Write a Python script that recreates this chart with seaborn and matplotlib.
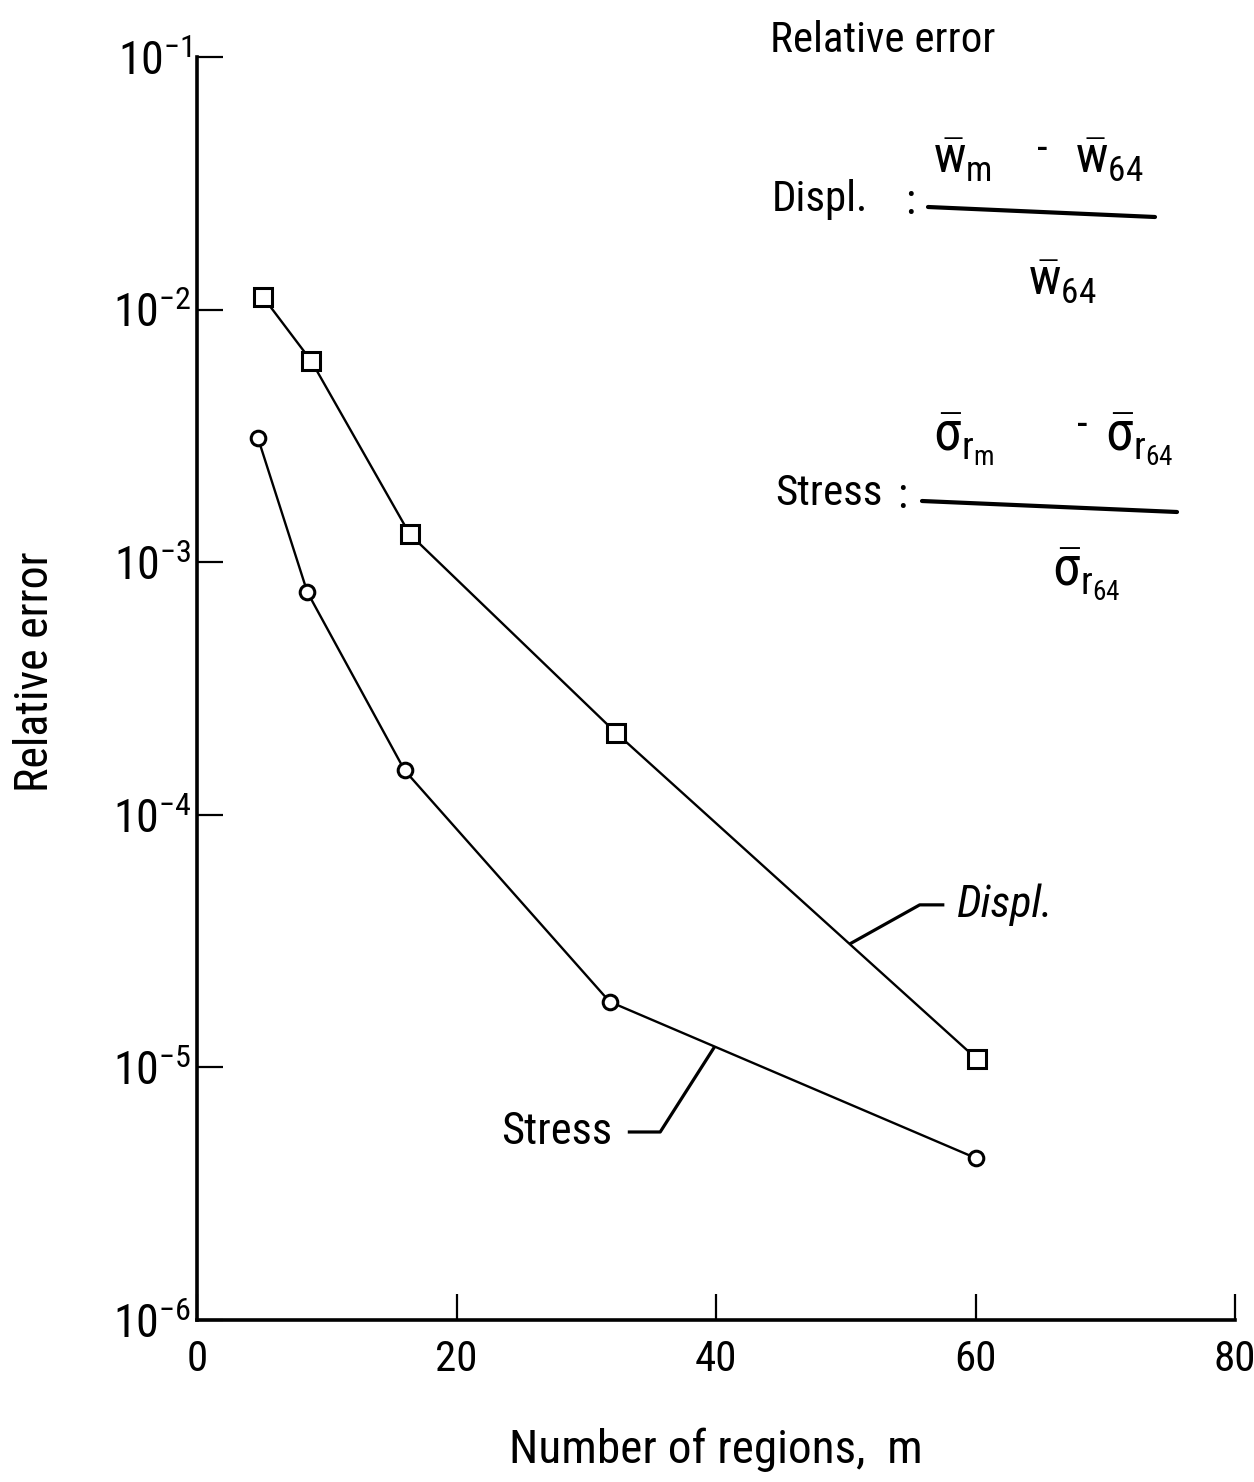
import numpy as np
import pandas as pd
import matplotlib
matplotlib.use("Agg")
import matplotlib.pyplot as plt
from matplotlib import font_manager
from matplotlib.lines import Line2D
from matplotlib.ticker import FixedLocator, FuncFormatter, NullLocator
import seaborn as sns

# Number of regions m and relative errors of the two solutions
m_displ = [5.1, 8.8, 16.4, 32.3, 60.1]
err_displ = [1.12e-2, 6.27e-3, 1.29e-3, 2.11e-4, 1.08e-5]
m_stress = [4.7, 8.5, 16.0, 31.8, 60.0]
err_stress = [3.10e-3, 7.62e-4, 1.50e-4, 1.82e-5, 4.38e-6]

x_ticks = [0, 20, 40, 60, 80]
y_exponents = [-6, -5, -4, -3, -2, -1]


def pick_font(names):
    for name in names:
        try:
            font_manager.findfont(name, fallback_to_default=False)
            return name
        except Exception:
            continue
    return "DejaVu Sans"


sns.set_theme(style="ticks")
FONT = pick_font(["Roboto Condensed", "Liberation Sans Narrow", "Open Sans Condensed",
                  "DejaVu Sans Condensed", "Liberation Sans"])
plt.rcParams["font.family"] = [FONT, "DejaVu Sans"]
plt.rcParams["font.stretch"] = "condensed"
plt.rcParams["text.color"] = "black"
plt.rcParams["mathtext.fontset"] = "custom"
plt.rcParams["mathtext.rm"] = FONT
plt.rcParams["mathtext.it"] = FONT
plt.rcParams["mathtext.bf"] = FONT
plt.rcParams["mathtext.sf"] = FONT

W, H = 1254, 1482
fig = plt.figure(figsize=(W / 100, H / 100), dpi=100)
fig.patch.set_facecolor("white")
left, right, top, bottom = 197, 1235, 57, 1320
ax = fig.add_axes([left / W, 1 - bottom / H, (right - left) / W, (bottom - top) / H])
ax.set_facecolor("white")

displ = pd.DataFrame({"m": m_displ, "err": err_displ})
stress = pd.DataFrame({"m": m_stress, "err": err_stress})

common = dict(color="black", linewidth=1.7, markerfacecolor="white",
              markeredgecolor="black", markeredgewidth=2.2, legend=False, ax=ax)
sns.lineplot(data=displ, x="m", y="err", marker="s", markersize=13, **common)
sns.lineplot(data=stress, x="m", y="err", marker="o", markersize=10.5, **common)

ax.set_yscale("log")
ax.set_xlim(0, 80)
ax.set_ylim(1e-6, 1e-1)
ax.xaxis.set_major_locator(FixedLocator(x_ticks))
ax.yaxis.set_major_locator(FixedLocator([10.0 ** e for e in y_exponents]))
ax.yaxis.set_minor_locator(NullLocator())
ax.yaxis.set_major_formatter(FuncFormatter(lambda v, p: r"$10^{\mathregular{-%d}}$" % abs(round(np.log10(v)))))
ax.xaxis.set_major_formatter(FuncFormatter(lambda v, p: "%d" % v))

for side in ("top", "right"):
    ax.spines[side].set_visible(False)
for side in ("left", "bottom"):
    ax.spines[side].set_linewidth(2.6)
    ax.spines[side].set_color("black")

ax.tick_params(axis="both", direction="in", length=19, width=1.6, color="black",
               labelsize=31, labelcolor="black")
ax.tick_params(axis="y", labelsize=33, pad=4)
ax.tick_params(axis="x", pad=14)

ax.set_xlabel("Number of regions,  m", fontsize=34, labelpad=34, color="black")
ax.set_ylabel("Relative error", fontsize=33, color="black")
ax.yaxis.set_label_coords(-0.135, 0.513)


def on_curve(ms, errs, xq):
    return 10 ** np.interp(xq, ms, np.log10(errs))


# leader lines for curve labels
xd = 50.3
yd = on_curve(m_displ, err_displ, xd)
ax.plot([xd, 55.7, 57.6], [yd, 4.4e-5, 4.4e-5], color="black", lw=2.3, solid_capstyle="butt")
ax.text(58.6, 4.4e-5, "Displ.", fontsize=32, style="italic", va="center", ha="left")

xs = 39.9
ys = on_curve(m_stress, err_stress, xs)
ax.plot([xs, 35.7, 33.2], [ys, 5.55e-6, 5.55e-6], color="black", lw=2.3, solid_capstyle="butt")
ax.text(32.0, 5.55e-6, "Stress", fontsize=32, va="center", ha="right")


def fx(x):
    return x / W


def fy(y):
    return 1 - y / H


# definitions of the relative errors
fs = 31
fig.text(fx(770), fy(40), "Relative error", fontsize=fs, va="center", ha="left")

fig.text(fx(772), fy(200), "Displ.", fontsize=fs, va="center", ha="left")
fig.text(fx(905), fy(203), ":", fontsize=fs, va="center", ha="left")
fig.add_artist(Line2D([fx(928), fx(1155)], [fy(207), fy(217)], color="black", lw=3))
fig.text(fx(933), fy(160), r"$\bar{\mathrm{w}}_{\mathrm{m}}$", fontsize=36, va="center", ha="left")
fig.text(fx(1037), fy(150), "-", fontsize=fs, va="center", ha="left")
fig.text(fx(1075), fy(160), r"$\bar{\mathrm{w}}_{64}$", fontsize=36, va="center", ha="left")
fig.text(fx(1028), fy(282), r"$\bar{\mathrm{w}}_{64}$", fontsize=36, va="center", ha="left")

fig.text(fx(775), fy(494), "Stress", fontsize=fs, va="center", ha="left")
fig.text(fx(897), fy(497), ":", fontsize=fs, va="center", ha="left")
fig.add_artist(Line2D([fx(922), fx(1177)], [fy(501), fy(512)], color="black", lw=3))
fig.text(fx(933), fy(440), r"$\bar{\sigma}_{\mathrm{r}_{\mathrm{m}}}$", fontsize=40, va="center", ha="left")
fig.text(fx(1077), fy(425), "-", fontsize=fs, va="center", ha="left")
fig.text(fx(1105), fy(440), r"$\bar{\sigma}_{\mathrm{r}_{64}}$", fontsize=40, va="center", ha="left")
fig.text(fx(1052), fy(575), r"$\bar{\sigma}_{\mathrm{r}_{64}}$", fontsize=40, va="center", ha="left")

fig.savefig("out.png", dpi=100, facecolor="white")
